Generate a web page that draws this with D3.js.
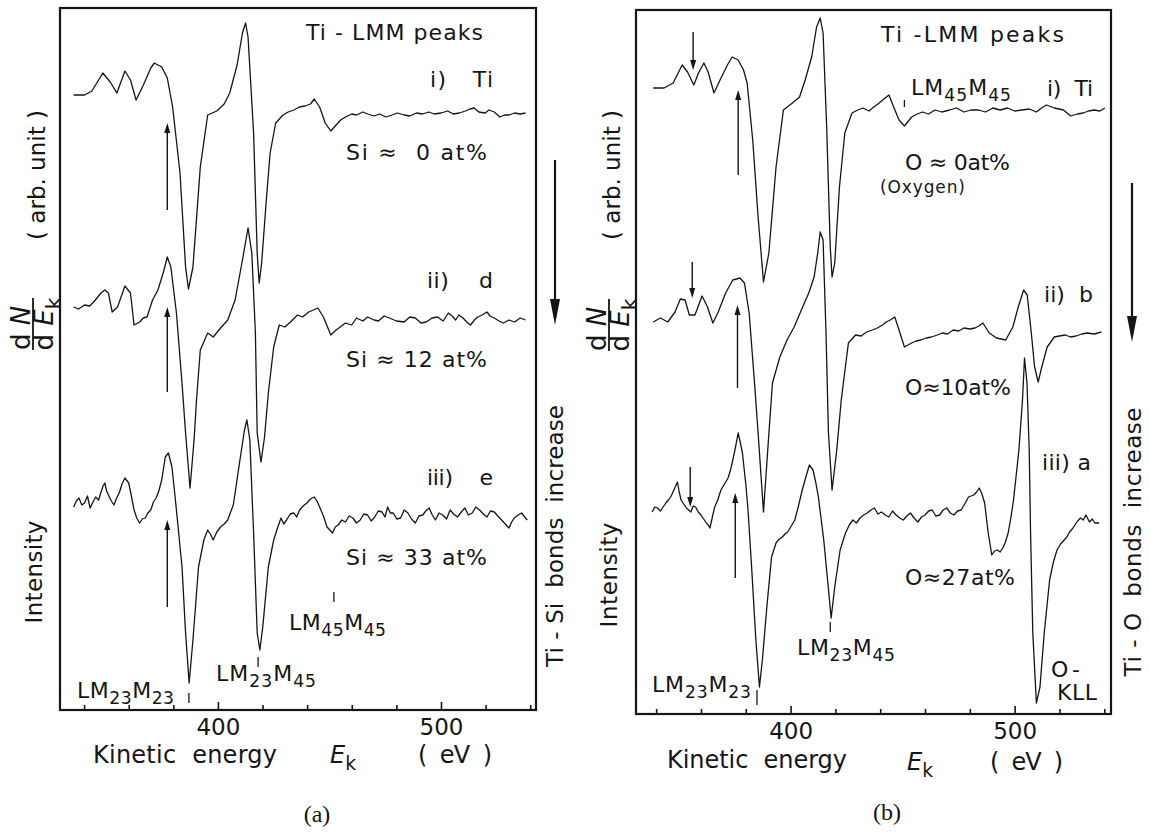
<!DOCTYPE html>
<html>
<head>
<meta charset="utf-8">
<script src="https://cdn.jsdelivr.net/npm/d3@7"></script>
<style>
  body { margin: 0; background: #fff; }
  svg text { font-family: 'DejaVu Sans', sans-serif; fill: #151515; white-space: pre; }
</style>
</head>
<body>
<svg id="fig" width="1150" height="833"></svg>
<script>
// x ticks (eV) and which ones get a number
const tickValues = [340, 360, 380, 400, 420, 440, 460, 480, 500, 520, 540]
const tickLabels = [400, 500]

// (a) Ti-LMM spectra vs Si content, [energy eV, dN/dE arb. units]
const curveAi = [[335.3,615],[340.2,615],[343.5,619],[348.4,637],[351.7,628],[354.7,617],[358.3,639],[360.8,630],[363.3,610],[366.6,625],[369.9,642],[371.5,647],[374.8,643],[377.3,632],[379.7,603],[383.0,537],[385.5,443],[386.8,421],[388.8,443],[392.1,543],[395.4,595],[399.5,599],[402.8,606],[405.3,617],[408.6,645],[411.0,677],[412.4,687],[413.5,673],[416.0,577],[417.6,457],[418.5,427],[419.6,447],[421.7,510],[423.4,557],[425.9,587],[429.2,595],[431.5,598],[434.1,600],[436.5,603],[439.0,604],[441.5,606],[443.2,611],[445.6,603],[448.1,587],[450.6,579],[453.0,585],[455,590],[457.2,593],[460,596],[462.1,595],[465,598],[467.1,596],[470,594],[472.5,596],[475.3,593],[478,595],[480.5,597],[483.5,595],[486,594],[489,597],[491.8,596],[494.5,598],[497,596],[500.0,597],[503,599],[505.5,596],[508.2,597],[511,599],[513,601],[514.8,602],[517,598],[519.8,597],[521.5,600],[523.9,598],[526.4,593],[528.5,595],[530.5,595],[533,597],[535.5,596],[537.9,597]]
const curveAii = [[335.3,403],[337.5,401],[340.2,405],[342.5,404],[344.3,408],[347.6,417],[349.3,420],[350.9,417],[352.6,398],[355.0,403],[358.3,424],[360.8,417],[362.4,385],[364.9,388],[366.5,392],[368.2,393],[370.7,410],[373.1,420],[375.6,438],[377.3,453],[378.9,443],[381.4,397],[383.9,327],[385.5,277],[387.5,222],[389.3,270],[390.4,310],[392.1,360],[395.4,377],[397.9,373],[401.2,382],[404.4,390],[407.7,410],[411.0,450],[413.5,482],[415.2,457],[416.8,377],[417.6,277],[419.3,248],[420.9,273],[422.6,317],[425.0,363],[427.5,385],[430,383],[432.5,388],[435.7,395],[438,393],[440.7,398],[444.8,402],[447.3,393],[450.6,375],[453.0,380],[457.2,387],[460,385],[462.1,392],[465,389],[467.1,393],[470,390],[472.0,389],[474.5,394],[476.9,392],[480,389],[483.5,388],[486,393],[488.5,392],[491,387],[493.4,388],[496,392],[498.4,393],[501,389],[503.3,397],[505,394],[506.6,390],[508,395],[509.9,392],[511.5,388],[513.2,385],[515,390],[516.5,393],[518.5,395],[520.6,398],[522,394],[523.9,392],[526,389],[528.0,387],[530.5,390],[533.0,388],[535.5,392],[537.9,390]]
const curveAiii = [[335.3,203],[336.5,209],[337.7,212],[339,205],[340.2,207],[341.5,214],[342.7,202],[344,208],[345.2,213],[346.5,210],[347.6,218],[348.5,224],[349.3,227],[350.1,219],[350.9,215],[352.2,209],[353.4,205],[354.6,212],[355.9,218],[357,226],[358.3,232],[360.0,227],[361.2,214],[362.4,200],[363.6,192],[364.9,187],[366.1,191],[367.4,192],[368.6,197],[369.9,200],[371.1,208],[372.3,212],[373.5,219],[374.8,230],[376.4,253],[377.8,257],[379.4,243],[381.4,200],[383.9,143],[385.5,77],[387.1,27],[388.8,70],[391.3,143],[393.7,170],[395.4,180],[396.6,176],[397.9,170],[399.5,178],[401.2,183],[402.8,186],[404.4,190],[405.7,198],[406.9,205],[409.4,243],[411.9,280],[413.0,290],[414.3,270],[416.0,177],[417.6,77],[418.8,60],[420.1,83],[422.6,143],[425.0,170],[426.7,182],[428.3,192],[429.5,186],[430.8,190],[432.4,196],[434.1,197],[435.3,193],[436.6,200],[438.2,204],[439.9,207],[441.5,211],[443.2,213],[444.4,209],[445.6,203],[447.3,194],[448.9,183],[450.2,180],[451.4,177],[452.6,183],[453.9,185],[455.5,190],[457.2,188],[458.8,194],[460.5,192],[462.1,187],[463.8,190],[465.4,196],[467.1,195],[468.7,189],[470.3,193],[471.9,199],[473.6,198],[474.9,193],[476.1,203],[477.3,197],[478.6,197],[480.2,191],[481.9,192],[483.5,200],[485.2,197],[486.8,191],[488.5,187],[490.1,194],[491.8,195],[493.2,199],[494.7,202],[496.1,195],[497.5,190],[499.1,197],[500.8,195],[502.5,191],[504.1,200],[505.7,196],[507.4,193],[509.1,198],[510.7,202],[512.3,195],[514.0,197],[515.6,203],[517.3,200],[519,196],[520.6,193],[522.2,199],[523.9,198],[525.5,194],[527.2,190],[528.8,186],[530.5,182],[531.7,188],[532.9,192],[534.6,195],[536.2,197],[537.5,193],[538.7,190]]

// (b) Ti-LMM spectra vs O content
const curveBi = [[338.7,626],[343.5,626],[347.6,631],[351.6,649],[354.0,642],[356.8,629],[358.9,641],[361.3,651],[363.2,642],[365.8,621],[368.5,634],[371.8,649],[373.9,657],[376.6,654],[379.0,644],[380.6,631],[383.1,574],[385.5,497],[387.9,432],[390.3,461],[393.5,547],[396.8,604],[400.8,611],[404.0,617],[406.5,634],[409.4,657],[411.6,687],[413.2,696],[414.5,681],[416.1,587],[417.7,467],[418.5,437],[419.7,451],[421.8,527],[424.2,581],[427.4,601],[430,604],[432.3,606],[435,603],[437.1,607],[439,610],[441.1,614],[443.9,619],[446.0,607],[448.4,594],[450.8,588],[454.0,597],[456.5,600],[458.9,602],[461.5,600],[464.5,604],[467.5,602],[471.0,604],[474,606],[477.4,602],[480.5,604],[483.9,604],[487,602],[490.3,606],[493.5,604],[496.8,606],[500,603],[503.2,604],[506.5,605],[509.7,602],[512,606],[514.2,609],[517.7,606],[521.8,604],[525.0,598],[528,600],[530.6,601],[533,603],[535.5,604],[538,603],[540.3,606]]
const curveBii = [[338.7,392],[341.9,396],[345.2,392],[348.4,402],[350.8,415],[352.9,414],[354.8,399],[357.3,399],[360.5,418],[362.9,407],[365.3,391],[367.7,402],[371.0,421],[374.2,434],[377.4,436],[379.4,431],[381.5,401],[383.9,331],[385.5,281],[387.9,202],[389.8,264],[391.9,331],[395.2,357],[398.4,374],[401.6,387],[404.8,404],[408.1,421],[410.5,437],[412.1,461],[413.2,482],[414.5,474],[415.8,381],[416.9,281],[418.5,224],[420.6,264],[422.6,314],[425.8,371],[429.0,379],[431.5,378],[433.9,382],[436.5,384],[438.7,386],[441,389],[442.7,392],[444.5,394],[446.5,397],[448.4,384],[450.8,367],[454.0,371],[456,373],[458.1,374],[460.5,376],[462.9,377],[465.5,379],[467.7,381],[470,380],[472.6,384],[475,383],[477.4,386],[480,385],[482.3,386],[484,388],[485.8,391],[488.7,381],[491.9,376],[494,375],[496.0,374],[499.2,387],[501.6,407],[504.0,424],[505.6,419],[507.3,384],[508.9,347],[510.5,332],[512.1,347],[514.5,367],[517.7,377],[520,378],[522.6,379],[525,377],[527.4,378],[530,380],[532.3,381],[535.5,380],[538.7,382]]
const curveBiii = [[338.2,202],[339.4,207],[340.6,206],[341.9,203],[343.1,207],[344.3,211],[345.5,214],[346.7,218],[347.9,224],[348.7,228],[349.5,232],[350.3,222],[351.1,214],[352.3,210],[353.5,206],[354.5,204],[355.5,202],[356.5,208],[357.6,207],[358.8,202],[360.0,199],[361.2,195],[362.4,191],[363.2,189],[364.0,186],[365,196],[366.1,207],[367.5,214],[368.9,224],[370.5,230],[372.1,236],[373.3,245],[374.5,257],[375.5,268],[376.6,281],[377.5,272],[378.5,261],[380,230],[381.0,204],[382.6,147],[384.5,74],[386.1,27],[387.4,54],[389.4,107],[391.5,157],[393.5,171],[395,175],[396.3,177],[397.5,180],[398.7,182],[400.3,188],[401.9,194],[403.5,208],[405.2,224],[406.8,237],[408.4,249],[410.0,244],[411.2,232],[412.4,217],[414.8,174],[416.8,127],[418.1,96],[419.7,127],[422.1,164],[424.5,181],[426.2,189],[427.8,194],[429.4,191],[431.0,196],[432.6,199],[434.2,201],[435.8,204],[437.4,206],[439,200],[440.6,202],[442.2,199],[443.9,197],[445.5,203],[447.1,199],[448.7,196],[450.3,194],[451.9,198],[453.5,201],[455.1,196],[456.8,192],[458.4,197],[460.0,199],[461.6,203],[463.2,204],[464.8,198],[466.5,199],[468.1,204],[469.7,206],[471.3,201],[472.9,199],[474.5,203],[476.1,204],[477.7,210],[479.4,217],[481.8,219],[483,222],[484.2,226],[485.4,220],[486.6,211],[488.2,181],[489.8,159],[491,163],[492.3,164],[493.5,162],[494.7,166],[495.9,172],[497.1,181],[498.3,196],[499.5,214],[501.9,264],[503.5,314],[504.4,356],[505.5,331],[506.5,264],[507.1,181],[508.1,81],[509.7,11],[511.3,27],[513.2,81],[515.6,134],[517.3,152],[518.9,164],[520.5,170],[522.1,174],[523.3,177],[524.5,182],[525.7,185],[526.9,189],[528.1,193],[529.4,196],[530.6,194],[531.8,199],[533.4,192],[534.6,195],[535.8,191],[537.7,191]]

// marker arrows: [energy, tail value, head value]
const upArrowsA = [[377.3, 500, 587], [377.3, 318, 403], [377.3, 103, 190]]
const upArrowsB = [[376.6, 539, 624], [376.3, 326, 409], [375.3, 136, 221]]
const downArrowsB = [[356.5, 682, 644], [356.1, 452, 416], [355.2, 247, 207]]
// small peak-marker ticks: [energy, top value, bottom value]
const markTicksA = [[452.0, 118, 108], [418.0, 53, 43], [387.0, 17, 7]]
const markTicksB = [[450.8, 614, 607], [417.7, 92, 82], [385.0, 24, 9]]

const svg = d3.select('#fig')

const panels = [
  { frame: { l: 60, r: 536, t: 8, b: 710 }, xDom: [329.2, 542.6], yDom: [0, 702],
    curves: [curveAi, curveAii, curveAiii], up: upArrowsA, down: [], marks: markTicksA },
  { frame: { l: 636, r: 1111, t: 10, b: 714 }, xDom: [331, 543], yDom: [0, 704],
    curves: [curveBi, curveBii, curveBiii], up: upArrowsB, down: downArrowsB, marks: markTicksB }
]

// text with sub/italic parts
function rich (g, x, y, parts, opt = {}) {
  const size = opt.size || 22
  const t = g.append('text').attr('x', x).attr('y', y).attr('font-size', size)
  if (opt.anchor) t.attr('text-anchor', opt.anchor)
  if (opt.len) t.attr('textLength', opt.len).attr('lengthAdjust', 'spacing')
  if (opt.family) t.style('font-family', opt.family)
  let shift = 0
  parts.forEach(p => {
    const s = typeof p === 'string' ? { t: p } : p
    const ts = t.append('tspan').text(s.t)
    const want = s.sub ? Math.round(size * 0.28) : 0
    if (want !== shift) { ts.attr('dy', want - shift); shift = want }
    if (s.sub) ts.attr('font-size', size * 0.78)
    if (s.it) ts.attr('font-style', 'italic')
  })
  return t
}

function vtext (g, x, y, str, size, len) {
  g.append('text')
    .attr('transform', `translate(${x},${y}) rotate(-90)`)
    .attr('text-anchor', 'middle')
    .attr('font-size', size)
    .attr('textLength', len)
    .attr('lengthAdjust', 'spacing')
    .text(str)
}

function fraction (g, cx, cy) {
  const f = g.append('g').attr('transform', `translate(${cx},${cy}) rotate(-90)`)
  rich(f, -4, -3, ['d ', { t: 'N', it: true }], { size: 26, anchor: 'middle' })
  f.append('line').attr('x1', -26).attr('x2', 26).attr('stroke', '#151515').attr('stroke-width', 1.8)
  rich(f, 0, 20, ['d ', { t: 'E', it: true }, { t: 'k', sub: true }], { size: 26, anchor: 'middle' })
}

panels.forEach(p => {
  const f = p.frame
  const x = d3.scaleLinear().domain(p.xDom).range([f.l, f.r])
  const y = d3.scaleLinear().domain(p.yDom).range([f.b, f.t])
  const g = svg.append('g')

  g.append('rect')
    .attr('x', f.l).attr('y', f.t)
    .attr('width', f.r - f.l).attr('height', f.b - f.t)
    .attr('fill', 'none').attr('stroke', '#151515').attr('stroke-width', 2.2)

  const ax = g.append('g')
    .attr('transform', `translate(0,${f.b})`)
    .call(d3.axisBottom(x).tickValues(tickValues).tickSize(-5).tickPadding(9)
      .tickFormat(d => tickLabels.includes(d) ? d : ''))
  ax.select('.domain').remove()
  ax.selectAll('.tick line').attr('stroke', '#151515').attr('stroke-width', 1.6)
    .attr('y2', d => tickLabels.includes(d) ? -8 : -5)
  ax.selectAll('.tick text').attr('font-size', 23).attr('fill', '#151515')
    .style('font-family', "'DejaVu Sans', sans-serif")

  const line = d3.line().x(d => x(d[0])).y(d => y(d[1]))
  p.curves.forEach(c => {
    g.append('path').datum(c).attr('d', line)
      .attr('fill', 'none').attr('stroke', '#151515').attr('stroke-width', 1.3)
      .attr('stroke-linejoin', 'round')
  })

  p.up.forEach(a => {
    const xx = x(a[0]); const y0 = y(a[1]); const y1 = y(a[2])
    g.append('line').attr('x1', xx).attr('x2', xx).attr('y1', y0).attr('y2', y1 + 6)
      .attr('stroke', '#151515').attr('stroke-width', 1.4)
    g.append('path').attr('d', `M${xx},${y1}L${xx - 3},${y1 + 10}L${xx + 3},${y1 + 10}Z`).attr('fill', '#151515')
  })
  p.down.forEach(a => {
    const xx = x(a[0]); const y0 = y(a[1]); const y1 = y(a[2])
    g.append('line').attr('x1', xx).attr('x2', xx).attr('y1', y0).attr('y2', y1 - 6)
      .attr('stroke', '#151515').attr('stroke-width', 1.4)
    g.append('path').attr('d', `M${xx},${y1}L${xx - 3},${y1 - 10}L${xx + 3},${y1 - 10}Z`).attr('fill', '#151515')
  })
  p.marks.forEach(m => {
    g.append('line').attr('x1', x(m[0])).attr('x2', x(m[0])).attr('y1', y(m[1])).attr('y2', y(m[2]))
      .attr('stroke', '#151515').attr('stroke-width', 1.3)
  })
})

// big "bonds increase" arrows at the right of each panel
;[[555, 160, 325], [1132, 183, 342]].forEach(a => {
  svg.append('line').attr('x1', a[0]).attr('x2', a[0]).attr('y1', a[1]).attr('y2', a[2] - 20)
    .attr('stroke', '#151515').attr('stroke-width', 2.2)
  svg.append('path').attr('d', `M${a[0]},${a[2]}L${a[0] - 5},${a[2] - 26}L${a[0] + 5},${a[2] - 26}Z`).attr('fill', '#151515')
})

// ---- texts, panel (a)
const ga = svg.append('g')
rich(ga, 306, 40, ['Ti - LMM peaks'], { len: 177 })
rich(ga, 430, 87, ['i)   Ti'], { len: 63 })
rich(ga, 346, 160, ['Si ≈  0 at%'], { len: 141 })
rich(ga, 427, 288, ['ii)    d'], { len: 66 })
rich(ga, 346, 367, ['Si ≈ 12 at%'], { len: 141 })
rich(ga, 427, 485, ['iii)    e'], { len: 66 })
rich(ga, 346, 565, ['Si ≈ 33 at%'], { len: 141 })
rich(ga, 289, 630, ['LM', { t: '45', sub: true }, 'M', { t: '45', sub: true }], { len: 97 })
rich(ga, 216, 681, ['LM', { t: '23', sub: true }, 'M', { t: '45', sub: true }], { len: 100 })
rich(ga, 77, 698, ['LM', { t: '23', sub: true }, 'M', { t: '23', sub: true }], { len: 97 })
rich(ga, 93, 763, ['Kinetic  energy'], { size: 24, len: 184 })
rich(ga, 330, 763, [{ t: 'E', it: true }, { t: 'k', sub: true }], { size: 24 })
rich(ga, 418, 763, ['(  eV  )'], { size: 24, len: 74 })
rich(ga, 317, 822, ['(a)'], { size: 24, anchor: 'middle', family: "'Liberation Serif', serif" })
vtext(ga, 45, 175, '( arb. unit )', 23, 130)
fraction(ga, 33, 324)
vtext(ga, 42, 572, 'Intensity', 23, 103)
vtext(ga, 563, 536, 'Ti - Si  bonds  increase', 23, 262)

// ---- texts, panel (b)
const gb = svg.append('g')
rich(gb, 881, 42, ['Ti -LMM peaks'], { len: 183 })
rich(gb, 911, 95, ['LM', { t: '45', sub: true }, 'M', { t: '45', sub: true }], { len: 100 })
rich(gb, 1047, 96, ['i)  Ti'], { len: 46 })
rich(gb, 905, 170, ['O ≈ 0at%'], { len: 105 })
rich(gb, 880, 193, ['(Oxygen)'], { size: 17, len: 85 })
rich(gb, 1044, 302, ['ii)  b'], { len: 49 })
rich(gb, 905, 395, ['O≈10at%'], { len: 106 })
rich(gb, 1042, 470, ['iii) a'], { len: 49 })
rich(gb, 905, 585, ['O≈27at%'], { len: 110 })
rich(gb, 797, 655, ['LM', { t: '23', sub: true }, 'M', { t: '45', sub: true }], { len: 98 })
rich(gb, 652, 692, ['LM', { t: '23', sub: true }, 'M', { t: '23', sub: true }], { len: 99 })
rich(gb, 1051, 677, ['O-'], { len: 29 })
rich(gb, 1057, 700, ['KLL'], { len: 40 })
rich(gb, 667, 768, ['Kinetic  energy'], { size: 24, len: 180 })
rich(gb, 907, 770, [{ t: 'E', it: true }, { t: 'k', sub: true }], { size: 24 })
rich(gb, 990, 770, ['(  eV  )'], { size: 24, len: 73 })
rich(gb, 887, 820, ['(b)'], { size: 24, anchor: 'middle', family: "'Liberation Serif', serif" })
vtext(gb, 620, 175, '( arb. unit )', 23, 130)
fraction(gb, 609, 325)
vtext(gb, 617, 575, 'Intensity', 23, 105)
vtext(gb, 1141, 542, 'Ti - O  bonds  increase', 23, 269)
</script>
</body>
</html>
